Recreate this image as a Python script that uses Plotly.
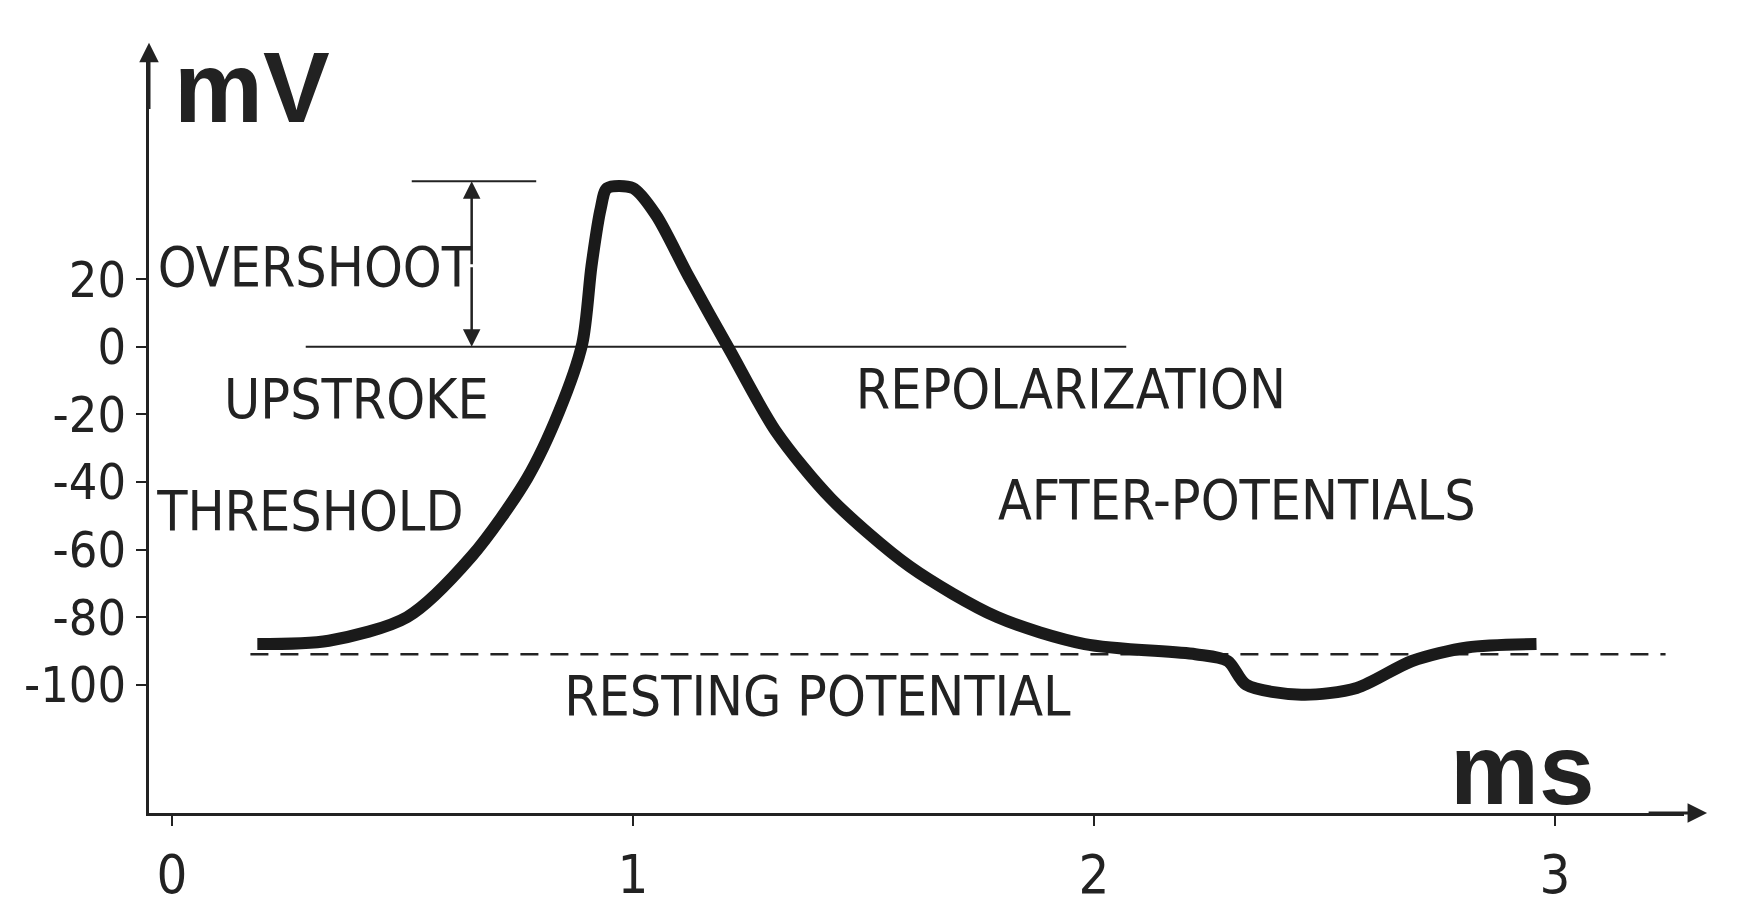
import plotly.graph_objects as go

t_ms = [0.185, 0.34, 0.51, 0.65, 0.77, 0.84, 0.89, 0.91, 0.93, 0.944, 1.0, 1.05, 1.12, 1.21, 1.31,
        1.43, 1.60, 1.79, 1.98, 2.22, 2.29, 2.33, 2.45, 2.57, 2.69, 2.81, 2.96]
v_mv = [-88, -87, -80, -62, -39, -19, 1, 24, 41, 47, 47, 39, 21, -1, -25,
        -45, -65, -80, -88, -91, -93, -100, -103, -101, -93, -89, -88]
y_ticks = [20, 0, -20, -40, -60, -80, -100]
y_tick_text = ["20", "0", "-20", "-40", "-60", "-80", "-100"]
x_ticks = [0, 1, 2, 3]
rest_mv = -91
labels = ["OVERSHOOT", "UPSTROKE", "THRESHOLD", "REPOLARIZATION", "AFTER-POTENTIALS", "RESTING POTENTIAL"]
label_x = [0.31, 0.40, 0.30, 1.95, 2.31, 1.40]
label_y = [22, -17, -50, -14, -47, -105]

FONT = "DejaVu Sans Condensed, Liberation Sans Narrow, Liberation Sans, sans-serif"
INK = "#222"

fig = go.Figure()
fig.add_trace(go.Scatter(x=[0.17, 3.24], y=[rest_mv, rest_mv], mode="lines",
                         line=dict(color=INK, width=2.5, dash="18px,12px"), hoverinfo="skip"))
fig.add_trace(go.Scatter(x=[0.29, 2.07], y=[0, 0], mode="lines",
                         line=dict(color=INK, width=2), hoverinfo="skip"))
fig.add_trace(go.Scatter(x=[0.52, 0.79], y=[49, 49], mode="lines",
                         line=dict(color=INK, width=2), hoverinfo="skip"))
fig.add_trace(go.Scatter(x=t_ms, y=v_mv, mode="lines", line=dict(color="#1a1a1a", width=12, shape="spline", smoothing=0.8),
                         hoverinfo="skip"))
fig.add_trace(go.Scatter(x=label_x, y=label_y, text=labels, mode="text", cliponaxis=False,
                         textfont=dict(family=FONT, size=55, color=INK), hoverinfo="skip"))

for y0, y1 in [(24, 49), (24, 0)]:
    fig.add_annotation(x=0.65, y=y1, ax=0.65, ay=y0, xref="x", yref="y", axref="x", ayref="y",
                       text="", showarrow=True, arrowhead=2, arrowsize=1.4, arrowwidth=2.5, arrowcolor=INK)
fig.add_annotation(x=-0.05, y=90, ax=-0.05, ay=70, xref="x", yref="y", axref="x", ayref="y",
                   text="", showarrow=True, arrowhead=2, arrowsize=1.3, arrowwidth=3, arrowcolor=INK)
fig.add_annotation(x=3.33, y=-138, ax=3.2, ay=-138, xref="x", yref="y", axref="x", ayref="y",
                   text="", showarrow=True, arrowhead=2, arrowsize=1.3, arrowwidth=3, arrowcolor=INK)
fig.add_annotation(x=0.0, y=77, text="<b>mV</b>", showarrow=False, xanchor="left",
                   font=dict(family="Liberation Sans, Arial, sans-serif", size=100, color=INK))
fig.add_annotation(x=2.93, y=-125, text="<b>ms</b>", showarrow=False,
                   font=dict(family="Liberation Sans, Arial, sans-serif", size=100, color=INK))

fig.update_layout(
    width=1737, height=921, margin=dict(l=141, r=61, t=45, b=116),
    paper_bgcolor="white", plot_bgcolor="white", showlegend=False,
    xaxis=dict(range=[-0.05, 3.28], tickvals=x_ticks, showline=True, linecolor=INK, linewidth=3,
               ticks="outside", ticklen=10, tickwidth=2, tickcolor=INK, showgrid=False, zeroline=False,
               tickfont=dict(family=FONT, size=54, color=INK), ticklabelstandoff=2),
    yaxis=dict(range=[-138, 87], tickvals=y_ticks, ticktext=y_tick_text, showline=True, linecolor=INK, linewidth=3,
               ticks="outside", ticklen=10, tickwidth=2, tickcolor=INK, showgrid=False, zeroline=False,
               tickfont=dict(family=FONT, size=50, color=INK)),
)
fig.write_html("out.html")
